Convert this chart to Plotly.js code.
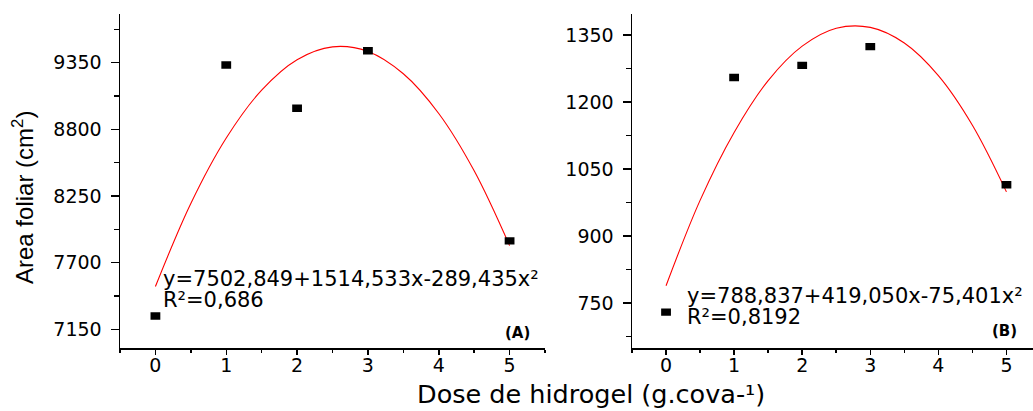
<!DOCTYPE html>
<html><head><meta charset="utf-8">
<script src="https://cdn.plot.ly/plotly-3.0.1.min.js"></script>
<style>html,body{margin:0;padding:0;background:#fff}#chart{width:1033px;height:411px}</style>
</head><body><div id="chart"></div>
<script>
// ---- data ----
const doses = [0, 1, 2, 3, 5];
const areaA = [7260, 9330, 8973, 9448, 7879];
const areaB = [730, 1255, 1282, 1324, 1015];
const fitDoses = [0, 0.5, 1, 1.5, 2, 2.5, 3, 3.5, 4, 4.5, 5];
const fitA = [7503, 8188, 8728, 9123, 9374, 9480, 9442, 9258, 8930, 8457, 7840];
const fitB = [789, 980, 1132, 1248, 1325, 1365, 1367, 1332, 1259, 1148, 999];
const eqA = ['y=7502,849+1514,533x-289,435x²', 'R²=0,686'];
const eqB = ['y=788,837+419,050x-75,401x²', 'R²=0,8192'];
const panelLabels = ['(A)', '(B)'];
const yTitle = 'Area foliar (cm<sup>2</sup>)';
const xTitle = 'Dose de hidrogel (g.cova-¹)';

// ---- layout helpers ----
const W = 1033, H = 411;
const px = v => v / W, py = v => 1 - v / H;
const tickFont = {family: 'DejaVu Sans', size: 19, color: '#000'};
const eqFont = {family: 'DejaVu Sans', size: 21, color: '#000'};
const yDom = [py(348.3), py(14)];

function markerTrace(x, y, xa, ya) {
  return {x, y, xaxis: xa, yaxis: ya, type: 'scatter', mode: 'markers', showlegend: false,
    marker: {symbol: 'line-ew', size: 7, color: '#000', line: {width: 7.4, color: '#000'}},
    hoverinfo: 'x+y'};
}
function fitTrace(x, y, xa, ya) {
  return {x, y, xaxis: xa, yaxis: ya, type: 'scatter', mode: 'lines', showlegend: false,
    line: {color: '#ff0000', width: 1.1, shape: 'spline', smoothing: 1}, hoverinfo: 'skip'};
}
const data = [
  fitTrace(fitDoses, fitA, 'x', 'y'),
  markerTrace(doses, areaA, 'x', 'y'),
  fitTrace(fitDoses, fitB, 'x2', 'y2'),
  markerTrace(doses, areaB, 'x2', 'y2')
];

const baseAxis = {showgrid: false, zeroline: false, showline: true, linecolor: '#000', linewidth: 1.5,
  tickcolor: '#000', tickwidth: 1.5, tickfont: tickFont, fixedrange: true};

const rangeXA = [-0.5, 5.5], rangeXB = [-0.5, 5.39];
const rangeYA = [6993, 9751], rangeYB = [649, 1397];

const xBottom = (dom, range, anchor) => Object.assign({}, baseAxis, {
  domain: dom, range, anchor, tick0: 0, dtick: 1, ticks: 'outside', ticklen: 5,
  minor: {ticks: 'outside', tick0: 0, dtick: 0.5, ticklen: 3, tickwidth: 1.5, tickcolor: '#000'},
  ticklabelstandoff: -6});
const xTop = (over, range, anchor) => Object.assign({}, baseAxis, {
  overlaying: over, side: 'top', range, anchor, tick0: 0, dtick: 1, ticks: 'inside', ticklen: 5,
  showticklabels: false,
  minor: {ticks: 'inside', tick0: 0, dtick: 0.5, ticklen: 3, tickwidth: 1.5, tickcolor: '#000'}});
const yLeft = (dom, range, anchor, t0, dt) => Object.assign({}, baseAxis, {
  domain: dom, range, anchor, tick0: t0, dtick: dt, ticks: 'outside', ticklen: 8,
  minor: {ticks: 'outside', tick0: t0, dtick: dt / 2, ticklen: 5, tickwidth: 1.5, tickcolor: '#000'},
  ticklabelstandoff: 5});

const layout = {
  width: W, height: H, margin: {l: 0, r: 0, t: 0, b: 0},
  paper_bgcolor: '#fff', plot_bgcolor: '#fff', showlegend: false,
  xaxis: xBottom([px(120), px(545)], rangeXA, 'y'),
  xaxis2: xBottom([px(632), 1], rangeXB, 'y2'),
  xaxis3: xTop('x', rangeXA, 'y'),
  xaxis4: xTop('x2', rangeXB, 'y2'),
  yaxis: yLeft(yDom, rangeYA, 'x', 7150, 550),
  yaxis2: yLeft(yDom, rangeYB, 'x2', 750, 150),
  yaxis3: Object.assign({}, baseAxis, {overlaying: 'y', side: 'right', anchor: 'x', range: rangeYA,
    tick0: 7150, dtick: 550, ticks: 'inside', ticklen: 7, showticklabels: false,
    minor: {ticks: 'inside', tick0: 7150, dtick: 275, ticklen: 4, tickwidth: 1.5, tickcolor: '#000'}}),
  annotations: [
    {text: eqA[0], xref: 'paper', yref: 'paper', x: px(161), y: py(278.5), xanchor: 'left', yanchor: 'middle', showarrow: false, font: eqFont},
    {text: eqA[1], xref: 'paper', yref: 'paper', x: px(161), y: py(300), xanchor: 'left', yanchor: 'middle', showarrow: false, font: eqFont},
    {text: eqB[0], xref: 'paper', yref: 'paper', x: px(685), y: py(296), xanchor: 'left', yanchor: 'middle', showarrow: false, font: eqFont},
    {text: eqB[1], xref: 'paper', yref: 'paper', x: px(685), y: py(317), xanchor: 'left', yanchor: 'middle', showarrow: false, font: eqFont},
    {text: '<b>' + panelLabels[0] + '</b>', xref: 'paper', yref: 'paper', x: px(532), y: py(333), xanchor: 'right', yanchor: 'middle', showarrow: false,
      font: {family: 'DejaVu Sans', size: 15, color: '#000'}},
    {text: '<b>' + panelLabels[1] + '</b>', xref: 'paper', yref: 'paper', x: px(1019), y: py(331), xanchor: 'right', yanchor: 'middle', showarrow: false,
      font: {family: 'DejaVu Sans', size: 15, color: '#000'}},
    {text: yTitle, xref: 'paper', yref: 'paper', x: px(23), y: py(198), xanchor: 'center', yanchor: 'middle', textangle: -90, showarrow: false,
      font: {family: 'Liberation Sans', size: 24, color: '#000'}},
    {text: xTitle, xref: 'paper', yref: 'paper', x: px(591), y: py(394), xanchor: 'center', yanchor: 'middle', showarrow: false,
      font: {family: 'DejaVu Sans', size: 25.5, color: '#000'}}
  ]
};

Plotly.newPlot('chart', data, layout, {displayModeBar: false, staticPlot: true});
</script>
</body></html>
